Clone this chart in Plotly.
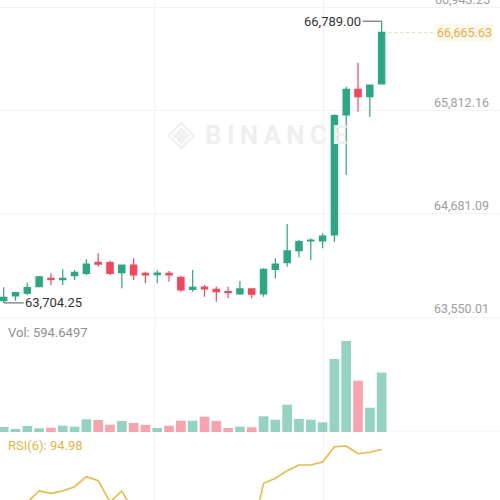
import plotly.graph_objects as go

# ---------------- data ----------------
idx = list(range(33))
opens = [63728, 63780, 63810, 63882, 63974, 63960, 64002, 64028, 64149, 64145,
         64035, 64119, 64027, 64015, 64028, 63985, 63853, 63878, 63853, 63827,
         63802, 63857, 63802, 64072, 64145, 64276, 64382, 64382, 64448, 65762,
         66043, 65962, 66101]
highs = [63875, 63827, 63926, 64000, 64028, 64072, 64065, 64182, 64248, 64166,
         64125, 64193, 64046, 64065, 64054, 63999, 64065, 63900, 63882, 63882,
         63944, 63857, 64083, 64193, 64568, 64393, 64412, 64467, 65770, 66072,
         66335, 66090, 66789.00]
lows = [63704.25, 63728, 63791, 63879, 63900, 63900, 63955, 64010, 64101, 64010,
        63864, 63955, 63919, 63919, 63937, 63827, 63827, 63772, 63718, 63755,
        63791, 63755, 63772, 63974, 64101, 64204, 64174, 64302, 64374, 65105,
        65798, 65743, 66101]
closes = [63766, 63816, 63871, 63991, 63963, 63972, 64039, 64130, 64130, 64028,
          64119, 64010, 64010, 64032, 64010, 63846, 63875, 63857, 63827, 63816,
          63857, 63799, 64072, 64130, 64273, 64375, 64393, 64437, 65754, 66043,
          65962, 66090, 66665.63]
volumes = [50, 30, 60, 37, 43, 63, 53, 127, 120, 73,
           110, 90, 70, 40, 63, 113, 113, 153, 110, 40,
           53, 47, 157, 123, 273, 130, 123, 97, 730, 910,
           513, 243, 594.6497]
rsi6 = [50, 55, 60, 67.5, 65.9, 67.5, 70.3, 76.9, 74.3, 60.2,
        67.5, 53.6, 55, 56, 54, 42, 45, 41, 38, 36,
        44, 37.2, 72.6, 75.9, 80.9, 84.7, 84.7, 86.6, 96.8, 97.2,
        92.1, 93.1, 94.98]
price_ticks = [63550.01, 64681.09, 65812.16, 66943.25]
price_tick_text = ["63,550.01", "64,681.09", "65,812.16", "66,943.25"]

# ---------------- style ----------------
GREEN = "#2AA883"
RED = "#F6465D"
VGREEN = "rgba(42,168,131,0.5)"
VRED = "rgba(246,70,93,0.5)"
GRID = "#F3F3F3"
FONT = "Roboto"
TICK_FONT = dict(family=FONT, size=12.5, color="#9E9E9E")

xr = [-0.313, 42.02]
yr_price = [63517.2, 67020.9]
PRICE_PX = 320.0


def px_x(px):
    return xr[0] + px / 500.0 * (xr[1] - xr[0])


def px_y(py):
    return yr_price[1] - py / PRICE_PX * (yr_price[1] - yr_price[0])


fig = go.Figure()

# watermark (drawn under candles)
thin = "\u2009"
fig.add_trace(go.Scatter(
    x=[px_x(181)], y=[px_y(136)], mode="text", text=["◈"],
    textfont=dict(family="DejaVu Sans", size=36, color="#F0F0F0"),
    hoverinfo="skip", showlegend=False, xaxis="x", yaxis="y"))
fig.add_trace(go.Scatter(
    x=[px_x(205)], y=[px_y(137)], mode="text", textposition="middle right",
    text=["<b>" + thin.join("BINANCE") + "</b>"],
    textfont=dict(family=FONT, size=26, color="#EFEFEF"),
    hoverinfo="skip", showlegend=False, xaxis="x", yaxis="y"))

fig.add_trace(go.Candlestick(
    x=idx, open=opens, high=highs, low=lows, close=closes,
    increasing=dict(line=dict(color=GREEN, width=1.2), fillcolor=GREEN),
    decreasing=dict(line=dict(color=RED, width=1.2), fillcolor=RED),
    whiskerwidth=0, showlegend=False, xaxis="x", yaxis="y"))

vcolors = [VGREEN if c >= o else VRED for o, c in zip(opens, closes)]
fig.add_trace(go.Bar(x=idx, y=volumes, marker=dict(color=vcolors, line=dict(width=0)),
                     width=0.82, showlegend=False, xaxis="x", yaxis="y2"))

fig.add_trace(go.Scatter(x=idx, y=rsi6, mode="lines",
                         line=dict(color="#EDB93F", width=1.6),
                         showlegend=False, xaxis="x", yaxis="y3"))

last = len(idx) - 1
hi_i = max(idx, key=lambda i: highs[i])
lo_i = min(idx, key=lambda i: lows[i])

annotations = [
    dict(x=hi_i, y=highs[hi_i], xref="x", yref="y", text=f"{highs[hi_i]:,.2f}",
         showarrow=True, arrowhead=0, arrowwidth=1, arrowcolor="#555555",
         ax=-49, ay=0, font=dict(family=FONT, size=13, color="#333333")),
    dict(x=lo_i, y=lows[lo_i], xref="x", yref="y", text=f"{lows[lo_i]:,.2f}",
         showarrow=True, arrowhead=0, arrowwidth=1, arrowcolor="#555555",
         ax=50, ay=0, font=dict(family=FONT, size=13, color="#333333")),
    dict(x=1, y=closes[last], xref="paper", yref="y", text=f"{closes[last]:,.2f}",
         showarrow=False, xanchor="right", xshift=-6, bgcolor="#FDF8EC",
         font=dict(family=FONT, size=12.5, color="#E5B040")),
    # top price label sits partly above the figure edge (plotly hides clipped inside tick labels)
    dict(x=1, y=price_ticks[-1], xref="paper", yref="y", text=price_tick_text[-1],
         showarrow=False, xanchor="right", yanchor="middle", xshift=-8, yshift=8,
         font=TICK_FONT),
    dict(x=0.012, y=1 - 332 / 500, xref="paper", yref="paper", text=f"Vol: {volumes[last]:.4f}",
         showarrow=False, xanchor="left", yanchor="middle",
         font=dict(family=FONT, size=13, color="#8F8F8F")),
    dict(x=0.012, y=1 - 445 / 500, xref="paper", yref="paper", text=f"RSI(6): {rsi6[last]:.2f}",
         showarrow=False, xanchor="left", yanchor="middle",
         font=dict(family=FONT, size=13, color="#E8B440")),
]

shapes = [
    dict(type="line", xref="x", yref="y", x0=last + 0.55, x1=last + 4.6,
         y0=closes[last], y1=closes[last], line=dict(color="#F3D9A0", width=1, dash="dot")),
    dict(type="line", xref="paper", yref="y2", x0=0, x1=1, y0=0, y1=0,
         line=dict(color=GRID, width=1), layer="below"),
]

fig.update_layout(
    width=500, height=500, margin=dict(l=0, r=0, t=0, b=0, autoexpand=False),
    paper_bgcolor="white", plot_bgcolor="white",
    showlegend=False, boxgap=0.24,
    font=dict(family=FONT),
    xaxis=dict(domain=[0, 1], range=xr, showticklabels=False, rangeslider=dict(visible=False),
               tickvals=[12.8, 27.04], showgrid=True, gridcolor=GRID, gridwidth=1,
               zeroline=False, showline=False, ticks="", automargin=False),
    yaxis=dict(domain=[1 - PRICE_PX / 500, 1.0], range=yr_price, side="right", tickvals=price_ticks,
               ticktext=price_tick_text, ticklabelposition="inside", ticklabelstandoff=8,
               ticklabelshift=-8, showgrid=True, gridcolor=GRID, zeroline=False, ticks="",
               automargin=False, tickfont=TICK_FONT),
    yaxis2=dict(domain=[0.136, 0.356], range=[0, 1101], showticklabels=False,
                showgrid=False, zeroline=False, automargin=False),
    yaxis3=dict(domain=[0.0, 0.136], range=[61.5, 106.5], showticklabels=False,
                showgrid=False, zeroline=False, automargin=False),
    annotations=annotations, shapes=shapes,
)

fig.write_html("out.html", config={"displayModeBar": False},
               post_script="document.body.style.margin='0';document.body.style.overflow='hidden';")
